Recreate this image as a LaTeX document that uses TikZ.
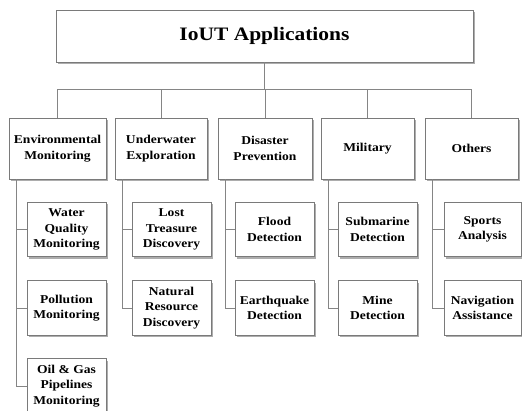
\documentclass[tikz,border=0pt]{standalone}
\usepackage{fontspec}
\setmainfont{Liberation Serif}[FakeStretch=1.13]
\usetikzlibrary{shadows}
\definecolor{linegray}{HTML}{858585}
\definecolor{boxgray}{HTML}{7A7A7A}
\tikzset{
  box/.style={draw=boxgray, line width=0.9pt, fill=white, align=center, inner sep=1pt,
    font=\fontsize{12}{15.5}\selectfont\bfseries,
    drop shadow={shadow xshift=2pt, shadow yshift=-2pt, fill=black!40, opacity=0.8}},
  topbox/.style={box, minimum width=417pt, minimum height=52pt, font=\fontsize{19}{22}\selectfont\bfseries},
  catbox/.style={box, minimum height=61pt},
  subbox/.style={box, minimum height=54.5pt, minimum width=79pt},
  conn/.style={draw=linegray, line width=0.9pt}
}
\begin{document}
\begin{tikzpicture}[x=1pt,y=-1pt]
\useasboundingbox (0,0) rectangle (522,410);
\node[topbox] (top) at (264.5,36) {IoUT Applications};
\node[catbox, minimum width=97pt] (env) at (57.5,148.5) {Environmental\\Monitoring};
\node[catbox, minimum width=92pt] (und) at (161,148.5) {Underwater\\Exploration};
\node[catbox, minimum width=94pt] (dis) at (265,148.5) {Disaster\\Prevention};
\node[catbox, minimum width=93pt] (mil) at (367.5,148.5) {Military};
\node[catbox, minimum width=93pt] (oth) at (471.5,148.5) {Others};

\node[subbox] (env1) at (66.5,229.5) {Water\\Quality\\Monitoring};
\node[subbox] (env2) at (66.5,308) {Pollution\\Monitoring};
\node[subbox] (env3) at (66.5,386) {Oil \& Gas\\Pipelines\\Monitoring};
\node[subbox] (und1) at (171.5,229.5) {Lost\\Treasure\\Discovery};
\node[subbox] (und2) at (171.5,308) {Natural\\Resource\\Discovery};
\node[subbox] (dis1) at (274.5,229.5) {Flood\\Detection};
\node[subbox] (dis2) at (274.5,308) {Earthquake\\Detection};
\node[subbox] (mil1) at (377.5,229.5) {Submarine\\Detection};
\node[subbox] (mil2) at (377.5,308) {Mine\\Detection};
\node[subbox, minimum width=77pt] (oth1) at (482.5,229.5) {Sports\\Analysis};
\node[subbox, minimum width=77pt] (oth2) at (482.5,308) {Navigation\\Assistance};

\coordinate (bus) at (264.5,89);
\begin{scope}[on background layer/.try]
\end{scope}
\draw[conn] (top.south) -- (bus);
\foreach \n in {env,und,dis,mil,oth}{
  \draw[conn] (bus) -| (\n.north);
}
\foreach \p/\c in {env/env1,env/env2,env/env3,und/und1,und/und2,dis/dis1,dis/dis2,mil/mil1,mil/mil2,oth/oth1,oth/oth2}{
  \draw[conn] ([xshift=7.5pt]\p.south west) |- (\c.west);
}
\end{tikzpicture}
\end{document}
